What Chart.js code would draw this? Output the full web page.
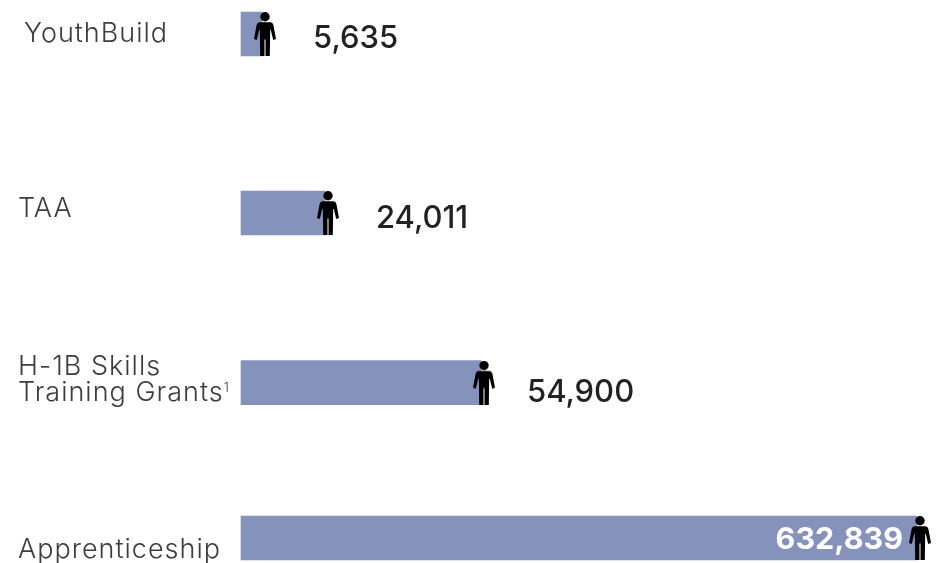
<!DOCTYPE html>
<html>
<head>
<meta charset="utf-8">
<style>html,body{margin:0;padding:0;background:#fff}canvas{display:block}</style>
<script src="https://cdn.jsdelivr.net/npm/chart.js@4"></script>
</head>
<body>
<canvas id="c" width="938" height="563" style="width:938px;height:563px"></canvas>
<script>
// Participants served per workforce program
const programs = ['YouthBuild', 'TAA', 'H-1B Skills Training Grants', 'Apprenticeship'];
const programLabelLines = [['YouthBuild'], ['TAA'], ['H-1B Skills', 'Training Grants¹'], ['Apprenticeship']];
const participants = [5635, 24011, 54900, 632839];

// The graphic's value axis is deliberately not proportional: each program's
// figure sits at its own stop along the axis, and the rows are unevenly spaced.
const axisStops = [[0, 0], [5635, 21], [24011, 84], [54900, 240], [632839, 676], [700000, 697]];
const rowCentres = [34, 213, 382.7, 538];

class SteppedValueScale extends Chart.LinearScale {
  getPixelForValue(v) {
    const s = this.options.stops;
    let i = 1;
    while (i < s.length - 1 && v > s[i][0]) i++;
    const [v0, p0] = s[i - 1], [v1, p1] = s[i];
    return this.left + p0 + (v - v0) / (v1 - v0) * (p1 - p0);
  }
}
SteppedValueScale.id = 'stepped';
SteppedValueScale.defaults = Chart.LinearScale.defaults;

class RowScale extends Chart.CategoryScale {
  getPixelForValue(v) {
    const i = typeof v === 'number' ? v : this.getLabels().indexOf(v);
    return this.options.centres[i];
  }
  getPixelForTick(i) { return this.options.centres[i]; }
}
RowScale.id = 'rows';
RowScale.defaults = Chart.CategoryScale.defaults;

Chart.register(SteppedValueScale, RowScale);

// Standing figure used as the end marker of each bar, set slightly past the bar's end
function personIcon() {
  const w = 30, h = 44, cv = document.createElement('canvas');
  cv.width = w; cv.height = h;
  const g = cv.getContext('2d');
  g.translate(7, 0);
  g.fillStyle = '#000';
  g.beginPath(); g.arc(11, 4.7, 4.7, 0, Math.PI * 2); g.fill();
  g.beginPath();
  g.moveTo(5.5, 10.3); g.lineTo(16.5, 10.3);
  g.quadraticCurveTo(18.8, 10.3, 19.4, 13);
  g.lineTo(22, 27); g.lineTo(19.2, 28);
  g.lineTo(16.8, 18); g.lineTo(16.2, 18);
  g.lineTo(15.8, 44); g.lineTo(11.5, 44); g.lineTo(11.5, 27.5); g.lineTo(10.5, 27.5);
  g.lineTo(10.5, 44); g.lineTo(6.2, 44); g.lineTo(5.8, 18); g.lineTo(5.2, 18);
  g.lineTo(2.8, 28); g.lineTo(0, 27); g.lineTo(2.6, 13);
  g.quadraticCurveTo(3.2, 10.3, 5.5, 10.3);
  g.closePath(); g.fill();
  return cv;
}

const labelPlugin = {
  id: 'programText',
  afterDatasetsDraw(chart, args, opts) {
    const { ctx } = chart;
    const x = chart.scales.x, y = chart.scales.y;
    ctx.save();
    ctx.textBaseline = 'alphabetic';
    // Program names in the left column; the footnote mark is set small and raised
    ctx.fillStyle = '#3d3d3d';
    programLabelLines.forEach((lines, i) => {
      lines.forEach((t, j) => {
        const base = opts.nameBase[i] + j * 26;
        const hasNote = t.endsWith('¹');
        const body = hasNote ? t.slice(0, -1) : t;
        ctx.font = '300 27px Inter, sans-serif';
        ctx.letterSpacing = '1px';
        ctx.fillText(body, opts.nameX[i], base);
        if (hasNote) {
          const end = opts.nameX[i] + ctx.measureText(body).width;
          ctx.font = '300 13px Inter, sans-serif';
          ctx.letterSpacing = '0px';
          ctx.fillText('1', end, base - 9);
        }
      });
    });
    // Participant counts beside or inside each bar
    ctx.letterSpacing = '0px';
    participants.forEach((v, i) => {
      const s = v.toLocaleString('en-US');
      const px = x.getPixelForValue(v);
      if (opts.inside[i]) {
        ctx.font = '700 30.5px Inter, sans-serif';
        ctx.fillStyle = '#fff';
        ctx.textAlign = 'right';
        ctx.fillText(s, px + opts.valueGap[i], y.getPixelForValue(i) + 11);
      } else {
        ctx.font = '500 31px Inter, sans-serif';
        ctx.fillStyle = '#222';
        ctx.textAlign = 'left';
        ctx.fillText(s, px + opts.valueGap[i], y.getPixelForValue(i) + opts.valueDrop[i]);
      }
    });
    ctx.restore();
  }
};

new Chart(document.getElementById('c'), {
  data: {
    labels: programs,
    datasets: [
      {
        type: 'line', data: participants, showLine: false, clip: false,
        pointStyle: personIcon(), pointRadius: 22, pointHoverRadius: 22,
        indexAxis: 'y', order: 0
      },
      {
        type: 'bar', data: participants, indexAxis: 'y', clip: false,
        backgroundColor: '#8592BC', barThickness: 44, order: 1
      }
    ]
  },
  options: {
    indexAxis: 'y',
    responsive: false,
    animation: false,
    layout: { autoPadding: false, padding: { left: 241, right: 0, top: 0, bottom: 0 } },
    plugins: {
      legend: { display: false },
      tooltip: { enabled: false },
      programText: {
        nameX: [24, 18, 18, 18],
        nameBase: [42, 217, 375, 558],
        inside: [false, false, false, true],
        valueGap: [51, 51, 46, -14],
        valueDrop: [14, 15, 19, 11]
      }
    },
    scales: {
      x: { type: 'stepped', stops: axisStops, min: 0, max: 700000, display: false },
      y: { type: 'rows', centres: rowCentres, display: false, offset: true }
    }
  },
  plugins: [labelPlugin]
});
</script>
</body>
</html>
